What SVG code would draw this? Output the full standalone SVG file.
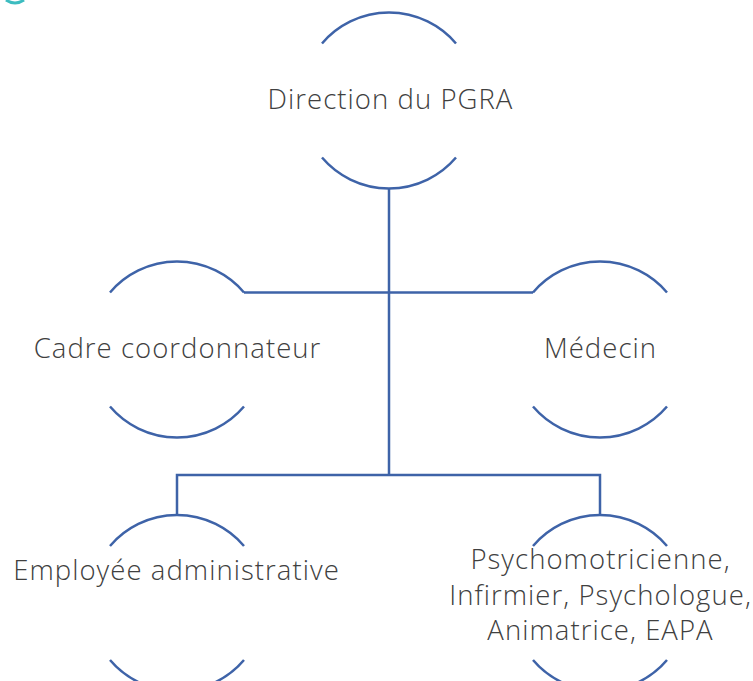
<svg xmlns="http://www.w3.org/2000/svg" width="753" height="681" viewBox="0 0 753 681">
<style>
.arc{fill:none;stroke:#3e63a8;stroke-width:2.5}
.con{fill:none;stroke:#3e63a8;stroke-width:2.5}
.t{font-family:"Open Sans","Noto Sans",sans-serif;font-weight:300;font-size:27.5px;letter-spacing:1.05px;fill:#404040;text-anchor:middle}
</style>
<rect width="753" height="681" fill="#ffffff"/>
<path d="M6,0 Q15,6 24,0" fill="none" stroke="#3cbcc0" stroke-width="3"/>
<g id="connectors">
<path class="con" d="M389,188.5 V475"/>
<path class="con" d="M244,292.5 H533"/>
<path class="con" d="M177,515 V475 H600 V515"/>
</g>
<g id="n-direction">
<path class="arc" d="M322,43.5 A88,88 0 0 1 456,43.5"/>
<path class="arc" d="M322,157.5 A88,88 0 0 0 456,157.5"/>
<text class="t" x="390.5" y="109">Direction du PGRA</text>
</g>
<g id="n-cadre">
<path class="arc" d="M110,292.5 A88,88 0 0 1 244,292.5"/>
<path class="arc" d="M110,406.5 A88,88 0 0 0 244,406.5"/>
<text class="t" x="177.5" y="358">Cadre coordonnateur</text>
</g>
<g id="n-medecin">
<path class="arc" d="M533,292.5 A88,88 0 0 1 667,292.5"/>
<path class="arc" d="M533,406.5 A88,88 0 0 0 667,406.5"/>
<text class="t" x="600.5" y="358">Médecin</text>
</g>
<g id="n-employee">
<path class="arc" d="M110,546 A88,88 0 0 1 244,546"/>
<path class="arc" d="M110,660 A88,88 0 0 0 244,660"/>
<text class="t" x="176.5" y="580">Employée administrative</text>
</g>
<g id="n-soignants">
<path class="arc" d="M533,546 A88,88 0 0 1 667,546"/>
<path class="arc" d="M533,660 A88,88 0 0 0 667,660"/>
<text class="t" x="600.5" y="569">Psychomotricienne,</text>
<text class="t" x="600.5" y="605">Infirmier, Psychologue,</text>
<text class="t" x="600.5" y="640">Animatrice, EAPA</text>
</g>
</svg>
